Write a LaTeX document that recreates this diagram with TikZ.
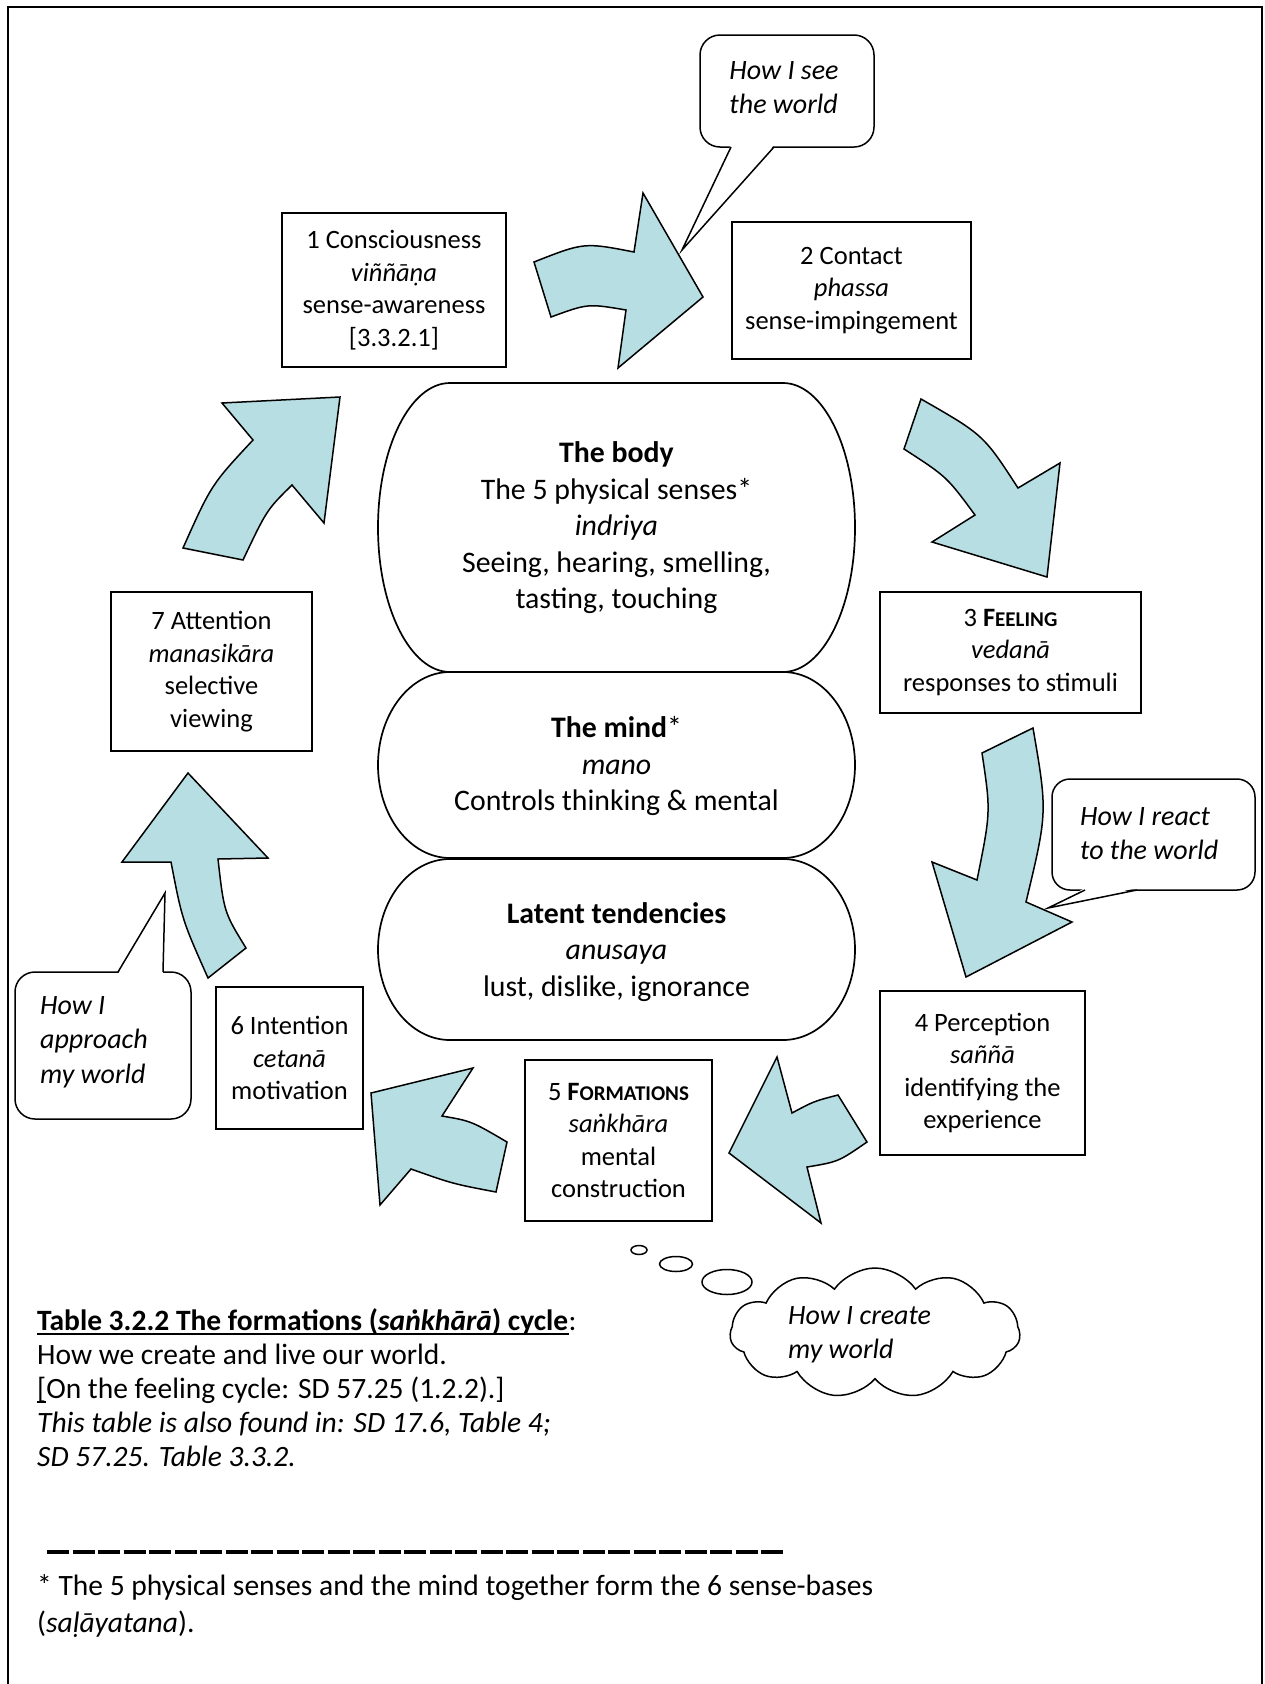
\documentclass[tikz,border=0pt]{standalone}
\usepackage{fontspec}
\setmainfont{Carlito}
\usetikzlibrary{shapes.symbols}
\definecolor{arrowfill}{RGB}{183,222,226}
\newcommand{\boxfnt}{\fontsize{26.5pt}{32.5pt}\selectfont}
\newcommand{\bodyfnt}{\fontsize{29.8pt}{36.5pt}\selectfont}
\newcommand{\callfnt}{\fontsize{28pt}{34.5pt}\selectfont\itshape}
\newcommand{\captfnt}{\fontsize{29.5pt}{34pt}\selectfont}
\newcommand{\scsz}[1]{{\fontsize{21pt}{21pt}\selectfont #1}}
\begin{document}
\begin{tikzpicture}[x=1pt,y=-1pt,
  cbox/.style={draw, line width=1.7pt, align=center, inner sep=0pt, font=\boxfnt},
  blob/.style={draw, fill=white, line width=1.7pt},
  arr/.style={draw, fill=arrowfill, line width=1.5pt, line join=miter, miter limit=10},
  cline/.style={draw, line width=1.5pt},
  txt/.style={inner sep=0pt, align=center},
  capt/.style={inner sep=0pt, anchor=base west, font=\captfnt},
  calltxt/.style={inner sep=0pt, align=left, font=\callfnt}]
\useasboundingbox (0,0) rectangle (1264,1684);
\fill[white] (0,0) rectangle (1264,1684);
% frame
\draw[line width=2pt] (8,1684) -- (8,7) -- (1262,7) -- (1262,1684);

% central shapes
\draw[blob] (450,383) -- (783,383) arc[start angle=-90,end angle=90,x radius=72,y radius=144.5] -- (450,672) arc[start angle=90,end angle=270,x radius=72,y radius=144.5] -- cycle;
\draw[blob] (450,672) -- (783,672) arc[start angle=-90,end angle=90,x radius=72,y radius=93] -- (450,858) arc[start angle=90,end angle=270,x radius=72,y radius=93] -- cycle;
\draw[blob] (450,859) -- (783,859) arc[start angle=-90,end angle=90,x radius=72,y radius=90.5] -- (450,1040) arc[start angle=90,end angle=270,x radius=72,y radius=90.5] -- cycle;
\node[txt, font=\bodyfnt] (body) at (616.5,528) {\textbf{The body}\\The 5 physical senses*\\\textit{indriya}\\Seeing, hearing, smelling,\\tasting, touching};
\node[txt, font=\bodyfnt] (mind) at (616.5,766) {\textbf{The mind}*\\\textit{mano}\\Controls thinking \& mental};
\node[txt, font=\bodyfnt] (latent) at (616.5,952) {\textbf{Latent tendencies}\\\textit{anusaya}\\lust, dislike, ignorance};

% boxes
\node[cbox, minimum width=224pt, minimum height=154pt] (b1) at (394,290) {1 Consciousness\\\textit{viññāṇa}\\sense-awareness\\{[3.3.2.1]}};
\node[cbox, minimum width=239pt, minimum height=137pt] (b2) at (851.5,290.5) {2 Contact\\\textit{phassa}\\sense-impingement};
\node[cbox, minimum width=261pt, minimum height=121pt] (b3) at (1010.5,652.5) {3 \textbf{F\scsz{EELING}}\\\textit{vedanā}\\responses to stimuli};
\node[cbox, minimum width=205pt, minimum height=164pt] (b4) at (982.5,1073) {4 Perception\\\textit{saññā}\\identifying the\\experience};
\node[cbox, minimum width=187pt, minimum height=161pt] (b5) at (618.5,1140.5) {5 \textbf{F\scsz{ORMATIONS}}\\\textit{saṅkhāra}\\mental\\construction};
\node[cbox, minimum width=147pt, minimum height=142pt] (b6) at (289.5,1058) {6 Intention\\\textit{cetanā}\\motivation};
\node[cbox, minimum width=201pt, minimum height=159pt] (b7) at (211.5,671.5) {7 Attention\\\textit{manasikāra}\\selective\\viewing};

% curved block arrows
\draw[arr] (534,262) .. controls (584,242.3) .. (634,252) -- (643,193) -- (703,297) -- (618,368) -- (626,310) .. controls (587.8,303.5) .. (551,317) -- cycle;
\draw[arr] (904,449) -- (921,399) .. controls (983.5,434.8) .. (1018,488) -- (1060,463) -- (1047,577) -- (932,542) -- (975,515) .. controls (946.8,476.7) .. (904,449) -- cycle;
\draw[arr] (982,753) -- (1033,728) .. controls (1047.5,812.3) .. (1026,902) -- (1072,922) -- (966,977) -- (932,862) -- (977,880) .. controls (990.8,811.8) .. (982,753) -- cycle;
\draw[arr] (838,1095) .. controls (813.7,1101.3) .. (792,1113) -- (777,1057) -- (729,1153) -- (821,1223) -- (807,1167) .. controls (838.3,1161.8) .. (867,1142) -- cycle;
\draw[arr] (507,1142) .. controls (471.2,1121) .. (442,1116) -- (473,1068) -- (371,1093) -- (380,1205) -- (411,1169) .. controls (452.8,1183.8) .. (496,1192) -- cycle;
\draw[arr] (208,978) .. controls (182.2,920) .. (171,862) -- (122,862) -- (188,773) -- (268,858) -- (218,859) .. controls (224,912.2) .. (246,948) -- cycle;
\draw[arr] (183,548) .. controls (211.3,484.7) .. (253,440) -- (222,403) -- (340,397) -- (324,523) -- (292,485) .. controls (266.8,509.8) .. (243,560) -- cycle;

% callouts
\draw[cline, fill=white, rounded corners=20pt] (700,35) rectangle (874,147);
\fill[white] (731,145) -- (682,250) -- (774,145) -- cycle;
\draw[cline, line join=miter] (731,147) -- (682,250) -- (774,147);
\node[calltxt] (see) at (784,87.5) {How I see\\the world};

\draw[cline, fill=white, rounded corners=18pt] (1052,779) rectangle (1255,890);
\fill[white] (1085,888) -- (1048,908) -- (1137,888) -- cycle;
\draw[cline, line join=miter] (1085,890) -- (1048,908) -- (1137,890);
\node[calltxt, anchor=west] (react) at (1080,833.5) {How I react\\to the world};

\draw[cline, fill=white, rounded corners=20pt] (15,972) rectangle (191,1119);
\fill[white] (118,974) -- (165,893) -- (163,974) -- cycle;
\draw[cline, line join=miter] (118,972) -- (165,893) -- (163,972);
\node[calltxt, anchor=west] (approach) at (40,1042) {How I\\approach\\my world};

% thought cloud
\draw[cline] (639,1250) ellipse[x radius=8, y radius=4.5];
\draw[cline] (676,1264) ellipse[x radius=16.5, y radius=7.5];
\draw[cline] (727,1282) ellipse[x radius=25, y radius=12.5];
\node[cloud, draw, line width=1.5pt, cloud puffs=11, cloud puff arc=110, aspect=2.2, minimum width=290pt, minimum height=130pt, inner sep=0pt] (cloud) at (875,1333) {};
\node[calltxt, anchor=west] (create) at (788,1335) {How I create\\my world};

% caption
\node[capt] (cap1) at (37,1330) {\textbf{Table 3.2.2 The formations (\textit{saṅkhārā}) cycle}};
\node[capt] (cap1c) at (cap1.base east) {:};
\draw[line width=1.8pt] ([yshift=-4pt]cap1.base west) -- ([yshift=-4pt]cap1.base east);
\node[capt] (cap2) at (37,1364) {How we create and live our world.};
\node[capt] (cap3) at (37,1398) {[On the feeling cycle: SD 57.25 (1.2.2).]};
\draw[line width=1.5pt] ([yshift=-4pt]cap3.base west) -- ([yshift=-4pt,xshift=9pt]cap3.base west);
\node[capt] (cap4) at (37,1432) {\textit{This table is also found in: SD 17.6, Table 4;}};
\node[capt] (cap5) at (37,1466) {\textit{SD 57.25. Table 3.3.2.}};

% footnote
\coordinate (rulea) at (47,1552);
\coordinate (ruleb) at (785,1552);
\draw[line width=3.5pt, dash pattern=on 22pt off 3.5pt] (rulea) -- (ruleb);
\node[capt] (fn1) at (37,1595) {* The 5 physical senses and the mind together form the 6 sense-bases};
\node[capt] (fn2) at (37,1632) {(\textit{saḷāyatana}).};
\end{tikzpicture}
\end{document}
